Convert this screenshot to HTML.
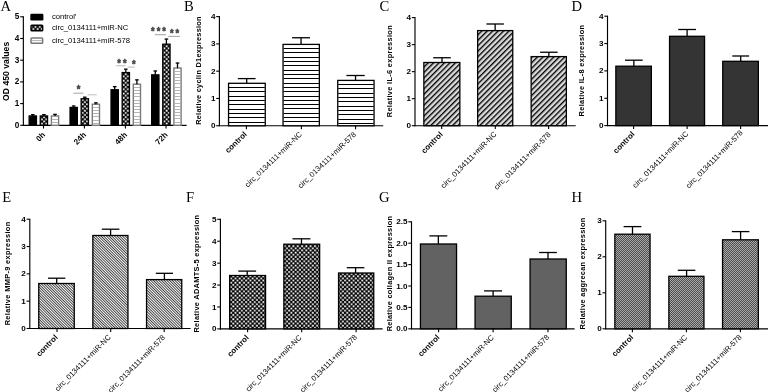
<!DOCTYPE html>
<html lang="en"><head><meta charset="utf-8"><title>Figure</title>
<style>html,body{margin:0;padding:0;background:#fff;}body{width:768px;height:392px;overflow:hidden;}svg{display:block;filter:blur(0.3px);}text{font-family:"Liberation Sans", Arial, sans-serif;fill:#000;}.pl{font-family:"Liberation Serif", "Times New Roman", serif;font-size:14.6px;}.b{font-weight:bold;}.r{stroke:none;}</style></head><body>
<svg width="768" height="392" viewBox="0 0 768 392">
<defs>
<pattern id="pDg" patternUnits="userSpaceOnUse" width="3.85" height="3.85" patternTransform="rotate(-45)"><rect width="3.85" height="3.85" fill="#dadada"/><rect y="0" width="3.85" height="1.35" fill="#000"/></pattern>
<pattern id="pFd" patternUnits="userSpaceOnUse" width="1.9" height="1.9" patternTransform="rotate(45)"><rect width="1.9" height="1.9" fill="#fff"/><rect y="0" width="1.9" height="0.9" fill="#363636"/></pattern>
<pattern id="pCk" patternUnits="userSpaceOnUse" width="4.3" height="4.3"><rect width="4.3" height="4.3" fill="#000"/><rect x="0.175" y="0.175" width="1.8" height="1.8" fill="#fff"/><rect x="2.325" y="2.325" width="1.8" height="1.8" fill="#fff"/></pattern>
<pattern id="pFc" patternUnits="userSpaceOnUse" width="2" height="2"><rect width="2" height="2" fill="#4c4c4c"/><rect x="0" y="0" width="1" height="1" fill="#ababab"/><rect x="1" y="1" width="1" height="1" fill="#ababab"/></pattern>
</defs>
<rect width="768" height="392" fill="#fff"/>
<g id="panelA">
<text class="pl" x="0.5" y="10.7">A</text>
<line x1="23.35" y1="16.30" x2="23.35" y2="125.80" stroke="#000" stroke-width="1.15"/>
<line x1="22.85" y1="125.30" x2="186.60" y2="125.30" stroke="#000" stroke-width="1.15"/>
<line x1="20.15" y1="125.30" x2="23.35" y2="125.30" stroke="#000" stroke-width="1.1"/>
<text x="19.35" y="127.80" font-size="8.2" class="b" text-anchor="end">0</text>
<line x1="20.15" y1="103.60" x2="23.35" y2="103.60" stroke="#000" stroke-width="1.1"/>
<text x="19.35" y="106.10" font-size="8.2" class="b" text-anchor="end">1</text>
<line x1="20.15" y1="81.90" x2="23.35" y2="81.90" stroke="#000" stroke-width="1.1"/>
<text x="19.35" y="84.40" font-size="8.2" class="b" text-anchor="end">2</text>
<line x1="20.15" y1="60.20" x2="23.35" y2="60.20" stroke="#000" stroke-width="1.1"/>
<text x="19.35" y="62.70" font-size="8.2" class="b" text-anchor="end">3</text>
<line x1="20.15" y1="38.50" x2="23.35" y2="38.50" stroke="#000" stroke-width="1.1"/>
<text x="19.35" y="41.00" font-size="8.2" class="b" text-anchor="end">4</text>
<line x1="20.15" y1="16.80" x2="23.35" y2="16.80" stroke="#000" stroke-width="1.1"/>
<text x="19.35" y="19.30" font-size="8.2" class="b" text-anchor="end">5</text>
<text x="9.10" y="100.90" font-size="8.6" class="b" text-anchor="start" transform="rotate(-90 9.10 100.90)" textLength="59.1" lengthAdjust="spacing">OD 450 values</text>
<rect x="30.3" y="13.8" width="13.1" height="6.7" rx="1.2" fill="#000"/>
<rect x="31.0" y="25.3" width="11.7" height="5.4" rx="0.8" fill="url(#pCk)" stroke="#000" stroke-width="1.4"/>
<rect x="31.05" y="38.0" width="11.6" height="5.2" rx="0.8" fill="#fff" stroke="#787878" stroke-width="1.5"/>
<line x1="31.80" y1="40.60" x2="41.90" y2="40.60" stroke="#a8a8a8" stroke-width="0.9"/>
<text x="51.90" y="19.20" font-size="7.65" class="r" text-anchor="start">control&#8242;</text>
<text x="51.90" y="30.30" font-size="7.65" class="r" text-anchor="start">circ_0134111+miR-NC</text>
<text x="51.90" y="43.20" font-size="7.65" class="r" text-anchor="start">circ_0134111+miR-578</text>
<rect x="29.15" y="115.95" width="7.30" height="9.35" fill="#000" stroke="#000" stroke-width="1.3"/>
<line x1="32.80" y1="115.95" x2="32.80" y2="114.65" stroke="#000" stroke-width="1.3"/>
<line x1="31.00" y1="114.65" x2="34.60" y2="114.65" stroke="#000" stroke-width="1.3"/>
<rect x="40.25" y="115.95" width="7.30" height="9.35" fill="url(#pCk)" stroke="#000" stroke-width="1.3"/>
<line x1="43.90" y1="115.95" x2="43.90" y2="114.65" stroke="#000" stroke-width="1.3"/>
<line x1="42.10" y1="114.65" x2="45.70" y2="114.65" stroke="#000" stroke-width="1.3"/>
<rect x="51.40" y="115.95" width="7.20" height="9.35" fill="#fff" stroke="#7a7a7a" stroke-width="1.4"/>
<rect x="51.90" y="119" width="6.20" height="1" fill="#b4b4b4"/>
<rect x="51.90" y="122" width="6.20" height="1" fill="#b4b4b4"/>
<line x1="55.00" y1="115.95" x2="55.00" y2="114.35" stroke="#000" stroke-width="1.3"/>
<line x1="53.20" y1="114.35" x2="56.80" y2="114.35" stroke="#000" stroke-width="1.3"/>
<line x1="43.50" y1="125.30" x2="43.50" y2="128.50" stroke="#000" stroke-width="1.1"/>
<rect x="70.05" y="107.45" width="7.30" height="17.85" fill="#000" stroke="#000" stroke-width="1.3"/>
<line x1="73.70" y1="107.45" x2="73.70" y2="105.95" stroke="#000" stroke-width="1.3"/>
<line x1="71.90" y1="105.95" x2="75.50" y2="105.95" stroke="#000" stroke-width="1.3"/>
<rect x="81.15" y="98.75" width="7.30" height="26.55" fill="url(#pCk)" stroke="#000" stroke-width="1.3"/>
<line x1="84.80" y1="98.75" x2="84.80" y2="97.20" stroke="#000" stroke-width="1.3"/>
<line x1="83.00" y1="97.20" x2="86.60" y2="97.20" stroke="#000" stroke-width="1.3"/>
<rect x="92.30" y="104.25" width="7.20" height="21.05" fill="#fff" stroke="#7a7a7a" stroke-width="1.4"/>
<rect x="92.80" y="107" width="6.20" height="1" fill="#b4b4b4"/>
<rect x="92.80" y="110" width="6.20" height="1" fill="#b4b4b4"/>
<rect x="92.80" y="113" width="6.20" height="1" fill="#b4b4b4"/>
<rect x="92.80" y="116" width="6.20" height="1" fill="#b4b4b4"/>
<rect x="92.80" y="120" width="6.20" height="1" fill="#b4b4b4"/>
<rect x="92.80" y="123" width="6.20" height="1" fill="#b4b4b4"/>
<line x1="95.90" y1="104.25" x2="95.90" y2="102.85" stroke="#000" stroke-width="1.3"/>
<line x1="94.10" y1="102.85" x2="97.70" y2="102.85" stroke="#000" stroke-width="1.3"/>
<line x1="84.40" y1="125.30" x2="84.40" y2="128.50" stroke="#000" stroke-width="1.1"/>
<rect x="111.05" y="89.75" width="7.30" height="35.55" fill="#000" stroke="#000" stroke-width="1.3"/>
<line x1="114.70" y1="89.75" x2="114.70" y2="86.65" stroke="#000" stroke-width="1.3"/>
<line x1="112.90" y1="86.65" x2="116.50" y2="86.65" stroke="#000" stroke-width="1.3"/>
<rect x="122.15" y="72.55" width="7.30" height="52.75" fill="url(#pCk)" stroke="#000" stroke-width="1.3"/>
<line x1="125.80" y1="72.55" x2="125.80" y2="69.20" stroke="#000" stroke-width="1.3"/>
<line x1="124.00" y1="69.20" x2="127.60" y2="69.20" stroke="#000" stroke-width="1.3"/>
<rect x="133.30" y="84.20" width="7.20" height="41.10" fill="#fff" stroke="#7a7a7a" stroke-width="1.4"/>
<rect x="133.80" y="87" width="6.20" height="1" fill="#b4b4b4"/>
<rect x="133.80" y="90" width="6.20" height="1" fill="#b4b4b4"/>
<rect x="133.80" y="93" width="6.20" height="1" fill="#b4b4b4"/>
<rect x="133.80" y="96" width="6.20" height="1" fill="#b4b4b4"/>
<rect x="133.80" y="100" width="6.20" height="1" fill="#b4b4b4"/>
<rect x="133.80" y="103" width="6.20" height="1" fill="#b4b4b4"/>
<rect x="133.80" y="106" width="6.20" height="1" fill="#b4b4b4"/>
<rect x="133.80" y="109" width="6.20" height="1" fill="#b4b4b4"/>
<rect x="133.80" y="112" width="6.20" height="1" fill="#b4b4b4"/>
<rect x="133.80" y="116" width="6.20" height="1" fill="#b4b4b4"/>
<rect x="133.80" y="119" width="6.20" height="1" fill="#b4b4b4"/>
<rect x="133.80" y="122" width="6.20" height="1" fill="#b4b4b4"/>
<line x1="136.90" y1="84.20" x2="136.90" y2="79.85" stroke="#000" stroke-width="1.3"/>
<line x1="135.10" y1="79.85" x2="138.70" y2="79.85" stroke="#000" stroke-width="1.3"/>
<line x1="125.40" y1="125.30" x2="125.40" y2="128.50" stroke="#000" stroke-width="1.1"/>
<rect x="151.65" y="74.85" width="7.30" height="50.45" fill="#000" stroke="#000" stroke-width="1.3"/>
<line x1="155.30" y1="74.85" x2="155.30" y2="70.95" stroke="#000" stroke-width="1.3"/>
<line x1="153.50" y1="70.95" x2="157.10" y2="70.95" stroke="#000" stroke-width="1.3"/>
<rect x="162.75" y="44.20" width="7.30" height="81.10" fill="url(#pCk)" stroke="#000" stroke-width="1.3"/>
<line x1="166.40" y1="44.20" x2="166.40" y2="39.05" stroke="#000" stroke-width="1.3"/>
<line x1="164.60" y1="39.05" x2="168.20" y2="39.05" stroke="#000" stroke-width="1.3"/>
<rect x="173.90" y="68.05" width="7.20" height="57.25" fill="#fff" stroke="#7a7a7a" stroke-width="1.4"/>
<rect x="174.40" y="71" width="6.20" height="1" fill="#b4b4b4"/>
<rect x="174.40" y="74" width="6.20" height="1" fill="#b4b4b4"/>
<rect x="174.40" y="77" width="6.20" height="1" fill="#b4b4b4"/>
<rect x="174.40" y="80" width="6.20" height="1" fill="#b4b4b4"/>
<rect x="174.40" y="83" width="6.20" height="1" fill="#b4b4b4"/>
<rect x="174.40" y="87" width="6.20" height="1" fill="#b4b4b4"/>
<rect x="174.40" y="90" width="6.20" height="1" fill="#b4b4b4"/>
<rect x="174.40" y="93" width="6.20" height="1" fill="#b4b4b4"/>
<rect x="174.40" y="96" width="6.20" height="1" fill="#b4b4b4"/>
<rect x="174.40" y="99" width="6.20" height="1" fill="#b4b4b4"/>
<rect x="174.40" y="103" width="6.20" height="1" fill="#b4b4b4"/>
<rect x="174.40" y="106" width="6.20" height="1" fill="#b4b4b4"/>
<rect x="174.40" y="109" width="6.20" height="1" fill="#b4b4b4"/>
<rect x="174.40" y="112" width="6.20" height="1" fill="#b4b4b4"/>
<rect x="174.40" y="115" width="6.20" height="1" fill="#b4b4b4"/>
<rect x="174.40" y="118" width="6.20" height="1" fill="#b4b4b4"/>
<rect x="174.40" y="122" width="6.20" height="1" fill="#b4b4b4"/>
<line x1="177.50" y1="68.05" x2="177.50" y2="63.05" stroke="#000" stroke-width="1.3"/>
<line x1="175.70" y1="63.05" x2="179.30" y2="63.05" stroke="#000" stroke-width="1.3"/>
<line x1="166.00" y1="125.30" x2="166.00" y2="128.50" stroke="#000" stroke-width="1.1"/>
<text x="45.80" y="135.40" font-size="8.0" class="b" text-anchor="end" transform="rotate(-45 45.80 135.40)">0h</text>
<text x="86.70" y="135.40" font-size="8.0" class="b" text-anchor="end" transform="rotate(-45 86.70 135.40)">24h</text>
<text x="127.70" y="135.40" font-size="8.0" class="b" text-anchor="end" transform="rotate(-45 127.70 135.40)">48h</text>
<text x="168.30" y="135.40" font-size="8.0" class="b" text-anchor="end" transform="rotate(-45 168.30 135.40)">72h</text>
<text x="0" y="0" font-size="11.0" class="b" text-anchor="middle" transform="translate(78.55 92.91) scale(0.84 1)" style="fill:#444;stroke:#444;stroke-width:0.55px;stroke-linejoin:round">*</text>
<line x1="73.40" y1="93.20" x2="83.40" y2="93.20" stroke="#8a8a8a" stroke-width="0.8"/>
<line x1="87.70" y1="94.80" x2="96.70" y2="94.80" stroke="#b5b5b5" stroke-width="0.9"/>
<text x="0" y="0" font-size="11.0" class="b" text-anchor="middle" transform="translate(119.08 67.21) scale(0.84 1)" style="fill:#444;stroke:#444;stroke-width:0.55px;stroke-linejoin:round">*</text>
<text x="0" y="0" font-size="11.0" class="b" text-anchor="middle" transform="translate(124.73 67.21) scale(0.84 1)" style="fill:#444;stroke:#444;stroke-width:0.55px;stroke-linejoin:round">*</text>
<line x1="116.10" y1="65.80" x2="125.70" y2="65.80" stroke="#b0b0b0" stroke-width="0.9"/>
<text x="0" y="0" font-size="11.0" class="b" text-anchor="middle" transform="translate(133.90 68.41) scale(0.84 1)" style="fill:#444;stroke:#444;stroke-width:0.55px;stroke-linejoin:round">*</text>
<line x1="127.70" y1="67.10" x2="134.80" y2="67.10" stroke="#b0b0b0" stroke-width="0.9"/>
<text x="0" y="0" font-size="11.0" class="b" text-anchor="middle" transform="translate(152.85 34.61) scale(0.84 1)" style="fill:#444;stroke:#444;stroke-width:0.55px;stroke-linejoin:round">*</text>
<text x="0" y="0" font-size="11.0" class="b" text-anchor="middle" transform="translate(158.50 34.61) scale(0.84 1)" style="fill:#444;stroke:#444;stroke-width:0.55px;stroke-linejoin:round">*</text>
<text x="0" y="0" font-size="11.0" class="b" text-anchor="middle" transform="translate(164.15 34.61) scale(0.84 1)" style="fill:#444;stroke:#444;stroke-width:0.55px;stroke-linejoin:round">*</text>
<line x1="154.85" y1="34.65" x2="166.00" y2="34.65" stroke="#b4b4b4" stroke-width="1.3"/>
<text x="0" y="0" font-size="11.0" class="b" text-anchor="middle" transform="translate(171.68 36.71) scale(0.84 1)" style="fill:#444;stroke:#444;stroke-width:0.55px;stroke-linejoin:round">*</text>
<text x="0" y="0" font-size="11.0" class="b" text-anchor="middle" transform="translate(177.32 36.71) scale(0.84 1)" style="fill:#444;stroke:#444;stroke-width:0.55px;stroke-linejoin:round">*</text>
<line x1="168.10" y1="36.40" x2="179.85" y2="36.40" stroke="#8c8c8c" stroke-width="0.8"/>
</g>
<g id="panelB">
<text class="pl" x="183.9" y="11.0">B</text>
<line x1="219.40" y1="16.10" x2="219.40" y2="126.25" stroke="#000" stroke-width="1.15"/>
<line x1="218.90" y1="125.75" x2="383.20" y2="125.75" stroke="#000" stroke-width="1.15"/>
<line x1="216.20" y1="125.75" x2="219.40" y2="125.75" stroke="#000" stroke-width="1.1"/>
<text x="215.40" y="128.30" font-size="8.1" class="b" text-anchor="end">0</text>
<line x1="216.20" y1="98.46" x2="219.40" y2="98.46" stroke="#000" stroke-width="1.1"/>
<text x="215.40" y="101.01" font-size="8.1" class="b" text-anchor="end">1</text>
<line x1="216.20" y1="71.17" x2="219.40" y2="71.17" stroke="#000" stroke-width="1.1"/>
<text x="215.40" y="73.72" font-size="8.1" class="b" text-anchor="end">2</text>
<line x1="216.20" y1="43.89" x2="219.40" y2="43.89" stroke="#000" stroke-width="1.1"/>
<text x="215.40" y="46.44" font-size="8.1" class="b" text-anchor="end">3</text>
<line x1="216.20" y1="16.60" x2="219.40" y2="16.60" stroke="#000" stroke-width="1.1"/>
<text x="215.40" y="19.15" font-size="8.1" class="b" text-anchor="end">4</text>
<text x="201.50" y="124.80" font-size="7.4" class="b" text-anchor="start" transform="rotate(-90 201.50 124.80)" textLength="108.4" lengthAdjust="spacing">Relative cyclin D1expression</text>
<rect x="228.55" y="83.30" width="36.70" height="42.45" fill="#fff" stroke="#000" stroke-width="1.3"/>
<rect x="229.00" y="87" width="35.80" height="1" fill="#000"/>
<rect x="229.00" y="91" width="35.80" height="1" fill="#000"/>
<rect x="229.00" y="96" width="35.80" height="1" fill="#000"/>
<rect x="229.00" y="100" width="35.80" height="1" fill="#000"/>
<rect x="229.00" y="104" width="35.80" height="1" fill="#000"/>
<rect x="229.00" y="109" width="35.80" height="1" fill="#000"/>
<rect x="229.00" y="113" width="35.80" height="1" fill="#000"/>
<rect x="229.00" y="117" width="35.80" height="1" fill="#000"/>
<rect x="229.00" y="122" width="35.80" height="1" fill="#000"/>
<line x1="246.70" y1="83.30" x2="246.70" y2="78.60" stroke="#000" stroke-width="1.3"/>
<line x1="237.80" y1="78.60" x2="255.60" y2="78.60" stroke="#000" stroke-width="1.3"/>
<rect x="283.05" y="44.40" width="36.30" height="81.35" fill="#fff" stroke="#000" stroke-width="1.3"/>
<rect x="283.50" y="48" width="35.40" height="1" fill="#000"/>
<rect x="283.50" y="52" width="35.40" height="1" fill="#000"/>
<rect x="283.50" y="57" width="35.40" height="1" fill="#000"/>
<rect x="283.50" y="61" width="35.40" height="1" fill="#000"/>
<rect x="283.50" y="65" width="35.40" height="1" fill="#000"/>
<rect x="283.50" y="70" width="35.40" height="1" fill="#000"/>
<rect x="283.50" y="74" width="35.40" height="1" fill="#000"/>
<rect x="283.50" y="78" width="35.40" height="1" fill="#000"/>
<rect x="283.50" y="83" width="35.40" height="1" fill="#000"/>
<rect x="283.50" y="87" width="35.40" height="1" fill="#000"/>
<rect x="283.50" y="91" width="35.40" height="1" fill="#000"/>
<rect x="283.50" y="96" width="35.40" height="1" fill="#000"/>
<rect x="283.50" y="100" width="35.40" height="1" fill="#000"/>
<rect x="283.50" y="104" width="35.40" height="1" fill="#000"/>
<rect x="283.50" y="108" width="35.40" height="1" fill="#000"/>
<rect x="283.50" y="113" width="35.40" height="1" fill="#000"/>
<rect x="283.50" y="117" width="35.40" height="1" fill="#000"/>
<rect x="283.50" y="121" width="35.40" height="1" fill="#000"/>
<line x1="301.05" y1="44.40" x2="301.05" y2="37.75" stroke="#000" stroke-width="1.3"/>
<line x1="292.10" y1="37.75" x2="310.00" y2="37.75" stroke="#000" stroke-width="1.3"/>
<rect x="337.75" y="80.40" width="36.30" height="45.35" fill="#fff" stroke="#000" stroke-width="1.3"/>
<rect x="338.20" y="84" width="35.40" height="1" fill="#000"/>
<rect x="338.20" y="88" width="35.40" height="1" fill="#000"/>
<rect x="338.20" y="93" width="35.40" height="1" fill="#000"/>
<rect x="338.20" y="97" width="35.40" height="1" fill="#000"/>
<rect x="338.20" y="101" width="35.40" height="1" fill="#000"/>
<rect x="338.20" y="106" width="35.40" height="1" fill="#000"/>
<rect x="338.20" y="110" width="35.40" height="1" fill="#000"/>
<rect x="338.20" y="114" width="35.40" height="1" fill="#000"/>
<rect x="338.20" y="119" width="35.40" height="1" fill="#000"/>
<rect x="338.20" y="123" width="35.40" height="1" fill="#000"/>
<line x1="355.55" y1="80.40" x2="355.55" y2="75.50" stroke="#000" stroke-width="1.3"/>
<line x1="346.40" y1="75.50" x2="364.70" y2="75.50" stroke="#000" stroke-width="1.3"/>
<line x1="246.40" y1="125.75" x2="246.40" y2="129.15" stroke="#000" stroke-width="1.1"/>
<text x="247.40" y="134.95" font-size="7.9" class="b" text-anchor="end" transform="rotate(-44 247.40 134.95)">control</text>
<line x1="301.40" y1="125.75" x2="301.40" y2="129.15" stroke="#000" stroke-width="1.1"/>
<text x="302.40" y="134.95" font-size="7.6" class="r" text-anchor="end" transform="rotate(-44 302.40 134.95)">circ_0134111+miR-NC</text>
<line x1="355.60" y1="125.75" x2="355.60" y2="129.15" stroke="#000" stroke-width="1.1"/>
<text x="356.60" y="134.95" font-size="7.6" class="r" text-anchor="end" transform="rotate(-44 356.60 134.95)">circ_0134111+miR-578</text>
</g>
<g id="panelC">
<text class="pl" x="379.4" y="11.0">C</text>
<line x1="415.00" y1="17.10" x2="415.00" y2="126.20" stroke="#000" stroke-width="1.15"/>
<line x1="414.50" y1="125.70" x2="575.70" y2="125.70" stroke="#000" stroke-width="1.15"/>
<line x1="411.80" y1="125.70" x2="415.00" y2="125.70" stroke="#000" stroke-width="1.1"/>
<text x="411.00" y="128.25" font-size="8.1" class="b" text-anchor="end">0</text>
<line x1="411.80" y1="98.68" x2="415.00" y2="98.68" stroke="#000" stroke-width="1.1"/>
<text x="411.00" y="101.23" font-size="8.1" class="b" text-anchor="end">1</text>
<line x1="411.80" y1="71.65" x2="415.00" y2="71.65" stroke="#000" stroke-width="1.1"/>
<text x="411.00" y="74.20" font-size="8.1" class="b" text-anchor="end">2</text>
<line x1="411.80" y1="44.63" x2="415.00" y2="44.63" stroke="#000" stroke-width="1.1"/>
<text x="411.00" y="47.18" font-size="8.1" class="b" text-anchor="end">3</text>
<line x1="411.80" y1="17.60" x2="415.00" y2="17.60" stroke="#000" stroke-width="1.1"/>
<text x="411.00" y="20.15" font-size="8.1" class="b" text-anchor="end">4</text>
<text x="392.40" y="117.20" font-size="7.4" class="b" text-anchor="start" transform="rotate(-90 392.40 117.20)" textLength="91.9" lengthAdjust="spacing">Relative IL-6 expression</text>
<rect x="423.85" y="62.50" width="36.00" height="63.20" fill="url(#pDg)" stroke="#000" stroke-width="1.3"/>
<line x1="442.00" y1="62.50" x2="442.00" y2="57.75" stroke="#000" stroke-width="1.3"/>
<line x1="433.20" y1="57.75" x2="450.80" y2="57.75" stroke="#000" stroke-width="1.3"/>
<rect x="477.65" y="30.60" width="35.10" height="95.10" fill="url(#pDg)" stroke="#000" stroke-width="1.3"/>
<line x1="495.15" y1="30.60" x2="495.15" y2="24.00" stroke="#000" stroke-width="1.3"/>
<line x1="486.40" y1="24.00" x2="503.90" y2="24.00" stroke="#000" stroke-width="1.3"/>
<rect x="531.15" y="56.60" width="35.20" height="69.10" fill="url(#pDg)" stroke="#000" stroke-width="1.3"/>
<line x1="548.85" y1="56.60" x2="548.85" y2="52.25" stroke="#000" stroke-width="1.3"/>
<line x1="540.10" y1="52.25" x2="557.60" y2="52.25" stroke="#000" stroke-width="1.3"/>
<line x1="441.70" y1="125.70" x2="441.70" y2="129.10" stroke="#000" stroke-width="1.1"/>
<text x="443.20" y="134.90" font-size="7.9" class="b" text-anchor="end" transform="rotate(-45.5 443.20 134.90)">control</text>
<line x1="495.30" y1="125.70" x2="495.30" y2="129.10" stroke="#000" stroke-width="1.1"/>
<text x="497.00" y="134.70" font-size="7.6" class="r" text-anchor="end" transform="rotate(-45.5 497.00 134.70)">circ_0134111+miR-NC</text>
<line x1="548.60" y1="125.70" x2="548.60" y2="129.10" stroke="#000" stroke-width="1.1"/>
<text x="551.30" y="134.90" font-size="7.6" class="r" text-anchor="end" transform="rotate(-45.5 551.30 134.90)">circ_0134111+miR-578</text>
</g>
<g id="panelD">
<text class="pl" x="571.4" y="10.7">D</text>
<line x1="607.50" y1="15.70" x2="607.50" y2="126.10" stroke="#000" stroke-width="1.15"/>
<line x1="607.00" y1="125.60" x2="768.00" y2="125.60" stroke="#000" stroke-width="1.15"/>
<line x1="604.30" y1="125.60" x2="607.50" y2="125.60" stroke="#000" stroke-width="1.1"/>
<text x="603.50" y="128.15" font-size="8.1" class="b" text-anchor="end">0</text>
<line x1="604.30" y1="98.25" x2="607.50" y2="98.25" stroke="#000" stroke-width="1.1"/>
<text x="603.50" y="100.80" font-size="8.1" class="b" text-anchor="end">1</text>
<line x1="604.30" y1="70.90" x2="607.50" y2="70.90" stroke="#000" stroke-width="1.1"/>
<text x="603.50" y="73.45" font-size="8.1" class="b" text-anchor="end">2</text>
<line x1="604.30" y1="43.55" x2="607.50" y2="43.55" stroke="#000" stroke-width="1.1"/>
<text x="603.50" y="46.10" font-size="8.1" class="b" text-anchor="end">3</text>
<line x1="604.30" y1="16.20" x2="607.50" y2="16.20" stroke="#000" stroke-width="1.1"/>
<text x="603.50" y="18.75" font-size="8.1" class="b" text-anchor="end">4</text>
<text x="584.30" y="116.40" font-size="7.4" class="b" text-anchor="start" transform="rotate(-90 584.30 116.40)" textLength="91.4" lengthAdjust="spacing">Relative IL-8 expression</text>
<rect x="615.85" y="66.20" width="35.50" height="59.40" fill="#343434" stroke="#000" stroke-width="1.3"/>
<line x1="633.85" y1="66.20" x2="633.85" y2="60.20" stroke="#000" stroke-width="1.3"/>
<line x1="625.00" y1="60.20" x2="642.70" y2="60.20" stroke="#000" stroke-width="1.3"/>
<rect x="669.55" y="36.30" width="35.00" height="89.30" fill="#343434" stroke="#000" stroke-width="1.3"/>
<line x1="687.10" y1="36.30" x2="687.10" y2="29.50" stroke="#000" stroke-width="1.3"/>
<line x1="678.20" y1="29.50" x2="696.00" y2="29.50" stroke="#000" stroke-width="1.3"/>
<rect x="722.75" y="61.30" width="35.60" height="64.30" fill="#343434" stroke="#000" stroke-width="1.3"/>
<line x1="740.70" y1="61.30" x2="740.70" y2="56.00" stroke="#000" stroke-width="1.3"/>
<line x1="732.30" y1="56.00" x2="749.10" y2="56.00" stroke="#000" stroke-width="1.3"/>
<line x1="633.60" y1="125.60" x2="633.60" y2="129.00" stroke="#000" stroke-width="1.1"/>
<text x="635.10" y="134.80" font-size="7.9" class="b" text-anchor="end" transform="rotate(-45.5 635.10 134.80)">control</text>
<line x1="687.10" y1="125.60" x2="687.10" y2="129.00" stroke="#000" stroke-width="1.1"/>
<text x="688.80" y="134.30" font-size="7.6" class="r" text-anchor="end" transform="rotate(-45.5 688.80 134.30)">circ_0134111+miR-NC</text>
<line x1="740.60" y1="125.60" x2="740.60" y2="129.00" stroke="#000" stroke-width="1.1"/>
<text x="743.30" y="133.30" font-size="7.6" class="r" text-anchor="end" transform="rotate(-45.5 743.30 133.30)">circ_0134111+miR-578</text>
</g>
<g id="panelE">
<text class="pl" x="2.3" y="201.7">E</text>
<line x1="29.80" y1="218.70" x2="29.80" y2="329.00" stroke="#000" stroke-width="1.15"/>
<line x1="29.30" y1="328.50" x2="190.60" y2="328.50" stroke="#000" stroke-width="1.15"/>
<line x1="26.60" y1="328.50" x2="29.80" y2="328.50" stroke="#000" stroke-width="1.1"/>
<text x="25.80" y="331.05" font-size="8.1" class="b" text-anchor="end">0</text>
<line x1="26.60" y1="301.18" x2="29.80" y2="301.18" stroke="#000" stroke-width="1.1"/>
<text x="25.80" y="303.73" font-size="8.1" class="b" text-anchor="end">1</text>
<line x1="26.60" y1="273.85" x2="29.80" y2="273.85" stroke="#000" stroke-width="1.1"/>
<text x="25.80" y="276.40" font-size="8.1" class="b" text-anchor="end">2</text>
<line x1="26.60" y1="246.52" x2="29.80" y2="246.52" stroke="#000" stroke-width="1.1"/>
<text x="25.80" y="249.07" font-size="8.1" class="b" text-anchor="end">3</text>
<line x1="26.60" y1="219.20" x2="29.80" y2="219.20" stroke="#000" stroke-width="1.1"/>
<text x="25.80" y="221.75" font-size="8.1" class="b" text-anchor="end">4</text>
<text x="9.80" y="325.30" font-size="7.4" class="b" text-anchor="start" transform="rotate(-90 9.80 325.30)" textLength="103.5" lengthAdjust="spacing">Relative MMP-9 expression</text>
<rect x="38.75" y="283.50" width="35.50" height="45.00" fill="url(#pFd)" stroke="#000" stroke-width="1.3"/>
<line x1="56.70" y1="283.50" x2="56.70" y2="278.20" stroke="#000" stroke-width="1.3"/>
<line x1="48.00" y1="278.20" x2="65.40" y2="278.20" stroke="#000" stroke-width="1.3"/>
<rect x="92.85" y="235.50" width="35.10" height="93.00" fill="url(#pFd)" stroke="#000" stroke-width="1.3"/>
<line x1="110.60" y1="235.50" x2="110.60" y2="229.20" stroke="#000" stroke-width="1.3"/>
<line x1="101.80" y1="229.20" x2="119.40" y2="229.20" stroke="#000" stroke-width="1.3"/>
<rect x="146.55" y="279.60" width="35.20" height="48.90" fill="url(#pFd)" stroke="#000" stroke-width="1.3"/>
<line x1="164.40" y1="279.60" x2="164.40" y2="273.30" stroke="#000" stroke-width="1.3"/>
<line x1="155.80" y1="273.30" x2="173.00" y2="273.30" stroke="#000" stroke-width="1.3"/>
<line x1="57.00" y1="328.50" x2="57.00" y2="331.90" stroke="#000" stroke-width="1.1"/>
<text x="58.20" y="338.00" font-size="7.9" class="b" text-anchor="end" transform="rotate(-45.3 58.20 338.00)">control</text>
<line x1="110.70" y1="328.50" x2="110.70" y2="331.90" stroke="#000" stroke-width="1.1"/>
<text x="111.30" y="337.70" font-size="7.6" class="r" text-anchor="end" transform="rotate(-45.3 111.30 337.70)">circ_0134111+miR-NC</text>
<line x1="164.20" y1="328.50" x2="164.20" y2="331.90" stroke="#000" stroke-width="1.1"/>
<text x="165.60" y="338.10" font-size="7.6" class="r" text-anchor="end" transform="rotate(-45.3 165.60 338.10)">circ_0134111+miR-578</text>
</g>
<g id="panelF">
<text class="pl" x="186.1" y="201.7">F</text>
<line x1="220.40" y1="218.80" x2="220.40" y2="329.40" stroke="#000" stroke-width="1.15"/>
<line x1="219.90" y1="328.90" x2="382.60" y2="328.90" stroke="#000" stroke-width="1.15"/>
<line x1="217.20" y1="328.90" x2="220.40" y2="328.90" stroke="#000" stroke-width="1.1"/>
<text x="216.40" y="331.45" font-size="8.1" class="b" text-anchor="end">0</text>
<line x1="217.20" y1="306.98" x2="220.40" y2="306.98" stroke="#000" stroke-width="1.1"/>
<text x="216.40" y="309.53" font-size="8.1" class="b" text-anchor="end">1</text>
<line x1="217.20" y1="285.06" x2="220.40" y2="285.06" stroke="#000" stroke-width="1.1"/>
<text x="216.40" y="287.61" font-size="8.1" class="b" text-anchor="end">2</text>
<line x1="217.20" y1="263.14" x2="220.40" y2="263.14" stroke="#000" stroke-width="1.1"/>
<text x="216.40" y="265.69" font-size="8.1" class="b" text-anchor="end">3</text>
<line x1="217.20" y1="241.22" x2="220.40" y2="241.22" stroke="#000" stroke-width="1.1"/>
<text x="216.40" y="243.77" font-size="8.1" class="b" text-anchor="end">4</text>
<line x1="217.20" y1="219.30" x2="220.40" y2="219.30" stroke="#000" stroke-width="1.1"/>
<text x="216.40" y="221.85" font-size="8.1" class="b" text-anchor="end">5</text>
<text x="199.00" y="332.50" font-size="7.4" class="b" text-anchor="start" transform="rotate(-90 199.00 332.50)" textLength="117.5" lengthAdjust="spacing">Relative ADAMTS-5 expression</text>
<rect x="229.65" y="275.50" width="35.90" height="53.40" fill="url(#pCk)" stroke="#000" stroke-width="1.3"/>
<line x1="247.20" y1="275.50" x2="247.20" y2="271.10" stroke="#000" stroke-width="1.3"/>
<line x1="238.30" y1="271.10" x2="256.10" y2="271.10" stroke="#000" stroke-width="1.3"/>
<rect x="283.85" y="244.20" width="35.80" height="84.70" fill="url(#pCk)" stroke="#000" stroke-width="1.3"/>
<line x1="301.45" y1="244.20" x2="301.45" y2="238.80" stroke="#000" stroke-width="1.3"/>
<line x1="292.50" y1="238.80" x2="310.40" y2="238.80" stroke="#000" stroke-width="1.3"/>
<rect x="338.55" y="273.00" width="35.20" height="55.90" fill="url(#pCk)" stroke="#000" stroke-width="1.3"/>
<line x1="355.60" y1="273.00" x2="355.60" y2="267.70" stroke="#000" stroke-width="1.3"/>
<line x1="346.80" y1="267.70" x2="364.40" y2="267.70" stroke="#000" stroke-width="1.3"/>
<line x1="247.60" y1="328.90" x2="247.60" y2="332.30" stroke="#000" stroke-width="1.1"/>
<text x="249.30" y="338.30" font-size="7.9" class="b" text-anchor="end" transform="rotate(-45.3 249.30 338.30)">control</text>
<line x1="301.70" y1="328.90" x2="301.70" y2="332.30" stroke="#000" stroke-width="1.1"/>
<text x="302.10" y="338.10" font-size="7.6" class="r" text-anchor="end" transform="rotate(-45.3 302.10 338.10)">circ_0134111+miR-NC</text>
<line x1="356.10" y1="328.90" x2="356.10" y2="332.30" stroke="#000" stroke-width="1.1"/>
<text x="357.60" y="337.80" font-size="7.6" class="r" text-anchor="end" transform="rotate(-45.3 357.60 337.80)">circ_0134111+miR-578</text>
</g>
<g id="panelG">
<text class="pl" x="378.9" y="201.7">G</text>
<line x1="411.50" y1="221.30" x2="411.50" y2="329.30" stroke="#000" stroke-width="1.15"/>
<line x1="411.00" y1="328.80" x2="574.60" y2="328.80" stroke="#000" stroke-width="1.15"/>
<line x1="408.30" y1="328.80" x2="411.50" y2="328.80" stroke="#000" stroke-width="1.1"/>
<text x="407.50" y="331.35" font-size="8.1" class="b" text-anchor="end">0.0</text>
<line x1="408.30" y1="307.40" x2="411.50" y2="307.40" stroke="#000" stroke-width="1.1"/>
<text x="407.50" y="309.95" font-size="8.1" class="b" text-anchor="end">0.5</text>
<line x1="408.30" y1="286.00" x2="411.50" y2="286.00" stroke="#000" stroke-width="1.1"/>
<text x="407.50" y="288.55" font-size="8.1" class="b" text-anchor="end">1.0</text>
<line x1="408.30" y1="264.60" x2="411.50" y2="264.60" stroke="#000" stroke-width="1.1"/>
<text x="407.50" y="267.15" font-size="8.1" class="b" text-anchor="end">1.5</text>
<line x1="408.30" y1="243.20" x2="411.50" y2="243.20" stroke="#000" stroke-width="1.1"/>
<text x="407.50" y="245.75" font-size="8.1" class="b" text-anchor="end">2.0</text>
<line x1="408.30" y1="221.80" x2="411.50" y2="221.80" stroke="#000" stroke-width="1.1"/>
<text x="407.50" y="224.35" font-size="8.1" class="b" text-anchor="end">2.5</text>
<text x="391.90" y="331.30" font-size="7.4" class="b" text-anchor="start" transform="rotate(-90 391.90 331.30)" textLength="115.3" lengthAdjust="spacing">Relative collagen II expression</text>
<rect x="420.45" y="244.00" width="36.10" height="84.80" fill="#626262" stroke="#000" stroke-width="1.3"/>
<line x1="438.35" y1="244.00" x2="438.35" y2="235.90" stroke="#000" stroke-width="1.3"/>
<line x1="429.40" y1="235.90" x2="447.30" y2="235.90" stroke="#000" stroke-width="1.3"/>
<rect x="475.05" y="296.20" width="36.20" height="32.60" fill="#626262" stroke="#000" stroke-width="1.3"/>
<line x1="493.10" y1="296.20" x2="493.10" y2="290.90" stroke="#000" stroke-width="1.3"/>
<line x1="484.10" y1="290.90" x2="502.10" y2="290.90" stroke="#000" stroke-width="1.3"/>
<rect x="530.05" y="259.00" width="36.20" height="69.80" fill="#626262" stroke="#000" stroke-width="1.3"/>
<line x1="548.00" y1="259.00" x2="548.00" y2="252.50" stroke="#000" stroke-width="1.3"/>
<line x1="539.10" y1="252.50" x2="556.90" y2="252.50" stroke="#000" stroke-width="1.3"/>
<line x1="438.60" y1="328.80" x2="438.60" y2="332.20" stroke="#000" stroke-width="1.1"/>
<text x="440.10" y="338.00" font-size="7.9" class="b" text-anchor="end" transform="rotate(-45.3 440.10 338.00)">control</text>
<line x1="493.10" y1="328.80" x2="493.10" y2="332.20" stroke="#000" stroke-width="1.1"/>
<text x="494.40" y="338.00" font-size="7.6" class="r" text-anchor="end" transform="rotate(-45.3 494.40 338.00)">circ_0134111+miR-NC</text>
<line x1="548.00" y1="328.80" x2="548.00" y2="332.20" stroke="#000" stroke-width="1.1"/>
<text x="549.80" y="337.70" font-size="7.6" class="r" text-anchor="end" transform="rotate(-45.3 549.80 337.70)">circ_0134111+miR-578</text>
</g>
<g id="panelH">
<text class="pl" x="571.6" y="201.7">H</text>
<line x1="605.70" y1="220.30" x2="605.70" y2="329.30" stroke="#000" stroke-width="1.15"/>
<line x1="605.20" y1="328.80" x2="768.00" y2="328.80" stroke="#000" stroke-width="1.15"/>
<line x1="602.50" y1="328.80" x2="605.70" y2="328.80" stroke="#000" stroke-width="1.1"/>
<text x="601.70" y="331.35" font-size="8.1" class="b" text-anchor="end">0</text>
<line x1="602.50" y1="292.80" x2="605.70" y2="292.80" stroke="#000" stroke-width="1.1"/>
<text x="601.70" y="295.35" font-size="8.1" class="b" text-anchor="end">1</text>
<line x1="602.50" y1="256.80" x2="605.70" y2="256.80" stroke="#000" stroke-width="1.1"/>
<text x="601.70" y="259.35" font-size="8.1" class="b" text-anchor="end">2</text>
<line x1="602.50" y1="220.80" x2="605.70" y2="220.80" stroke="#000" stroke-width="1.1"/>
<text x="601.70" y="223.35" font-size="8.1" class="b" text-anchor="end">3</text>
<text x="585.10" y="329.60" font-size="7.4" class="b" text-anchor="start" transform="rotate(-90 585.10 329.60)" textLength="111.8" lengthAdjust="spacing">Relative aggrecan expression</text>
<rect x="614.85" y="234.20" width="35.20" height="94.60" fill="url(#pFc)" stroke="#000" stroke-width="1.3"/>
<line x1="632.50" y1="234.20" x2="632.50" y2="226.60" stroke="#000" stroke-width="1.3"/>
<line x1="623.60" y1="226.60" x2="641.40" y2="226.60" stroke="#000" stroke-width="1.3"/>
<rect x="668.85" y="276.30" width="35.10" height="52.50" fill="url(#pFc)" stroke="#000" stroke-width="1.3"/>
<line x1="686.60" y1="276.30" x2="686.60" y2="270.30" stroke="#000" stroke-width="1.3"/>
<line x1="677.80" y1="270.30" x2="695.40" y2="270.30" stroke="#000" stroke-width="1.3"/>
<rect x="722.55" y="239.80" width="35.80" height="89.00" fill="url(#pFc)" stroke="#000" stroke-width="1.3"/>
<line x1="740.60" y1="239.80" x2="740.60" y2="231.60" stroke="#000" stroke-width="1.3"/>
<line x1="731.80" y1="231.60" x2="749.40" y2="231.60" stroke="#000" stroke-width="1.3"/>
<line x1="632.40" y1="328.80" x2="632.40" y2="332.20" stroke="#000" stroke-width="1.1"/>
<text x="633.90" y="338.00" font-size="7.9" class="b" text-anchor="end" transform="rotate(-45.3 633.90 338.00)">control</text>
<line x1="686.40" y1="328.80" x2="686.40" y2="332.20" stroke="#000" stroke-width="1.1"/>
<text x="687.70" y="338.00" font-size="7.6" class="r" text-anchor="end" transform="rotate(-45.3 687.70 338.00)">circ_0134111+miR-NC</text>
<line x1="740.40" y1="328.80" x2="740.40" y2="332.20" stroke="#000" stroke-width="1.1"/>
<text x="742.20" y="337.70" font-size="7.6" class="r" text-anchor="end" transform="rotate(-45.3 742.20 337.70)">circ_0134111+miR-578</text>
</g>
</svg></body></html>
